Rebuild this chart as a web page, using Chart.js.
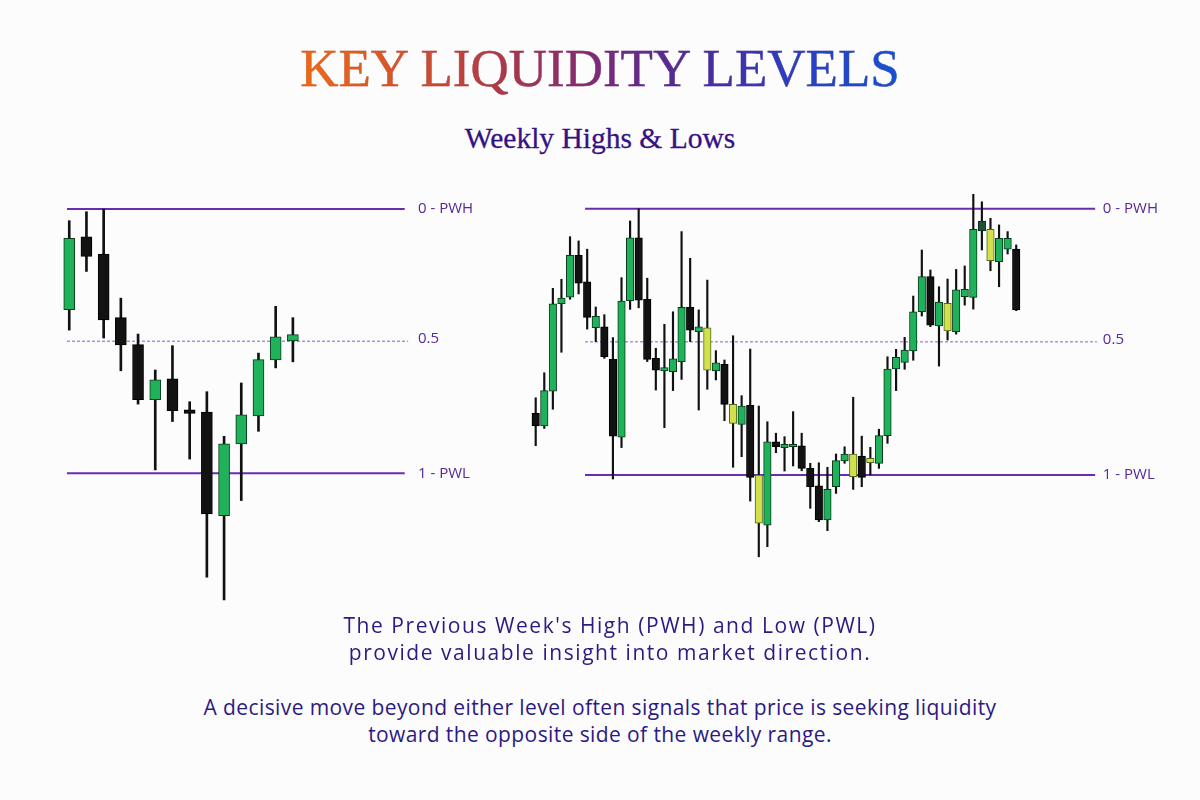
<!DOCTYPE html>
<html>
<head>
<meta charset="utf-8">
<script src="https://cdn.jsdelivr.net/npm/chart.js@4.4.1/dist/chart.umd.min.js"></script>
<style>
    body {
        margin: 0;
        width: 1200px;
        height: 800px;
        background: #fcfcfd;
        position: relative;
        overflow: hidden;
    }
    .line-text {
        position: absolute;
        left: 0;
        width: 1200px;
        text-align: center;
        white-space: nowrap;
        line-height: 1;
    }
    #title {
        top: 42px;
        font-family: "Liberation Serif", serif;
        font-size: 53px;
    }
    #title span {
        display: inline-block;
        background: linear-gradient(90deg, #ef6a12 0%, #d2522a 18%, #a8374a 35%, #7a2b78 50%, #4f2a96 64%, #2d3cbc 80%, #1552d2 100%);
        -webkit-background-clip: text;
        background-clip: text;
        color: transparent;
        -webkit-text-stroke: 0.4px rgba(120, 50, 120, 0.35);
    }
    #subtitle {
        top: 124px;
        font-family: "Liberation Serif", serif;
        font-size: 29.5px;
        color: #361283;
        -webkit-text-stroke: 0.3px #361283;
    }
    .note {
        font-family: "Open Sans", sans-serif;
        font-size: 21px;
        color: #2c1a82;
    }
    .p1 { letter-spacing: 1.55px; left: 10px; }
    .p2 { letter-spacing: 0.4px; }
    #leftBox { position: absolute; left: 40px; top: 180px; }
    #rightBox { position: absolute; left: 520px; top: 180px; }
</style>
</head>
<body>
<div id="title" class="line-text"><span>KEY LIQUIDITY LEVELS</span></div>
<div id="subtitle" class="line-text">Weekly Highs &amp; Lows</div>

<div id="leftBox"><canvas id="leftChart" width="460" height="440"></canvas></div>
<div id="rightBox"><canvas id="rightChart" width="680" height="400"></canvas></div>

<div class="line-text note p1" style="top:615px">The Previous Week's High (PWH) and Low (PWL)</div>
<div class="line-text note p1" style="top:642px">provide valuable insight into market direction.</div>
<div class="line-text note p2" style="top:697px">A decisive move beyond either level often signals that price is seeking liquidity</div>
<div class="line-text note p2" style="top:724px">toward the opposite side of the weekly range.</div>

<script>
// price is measured as % of the weekly range: 100 = PWH, 0 = PWL
const levelValues = [100, 50, 0];
const levelLabels = ['0 - PWH', '0.5', '1 - PWL'];

// left example (14 candles)
const leftOpen  = [61.9, 89.5, 83.0, 58.9, 48.7, 27.9, 35.8, 24.0, 23.2, -16.0, 11.1, 21.7, 42.9, 50.1];
const leftHigh  = [95.6, 99.0, 100, 66.3, 52.7, 39.1, 48.3, 27.1, 30.9, 14.0, 34.2, 45.5, 63.2, 58.9];
const leftLow   = [54.2, 76.4, 51.2, 38.8, 26.2, 1.3, 19.6, 5.4, -39.3, -47.9, -10.3, 15.9, 39.9, 42.2];
const leftClose = [88.9, 82.1, 58.1, 48.6, 27.9, 35.4, 23.7, 22.7, -15.4, 11.2, 22.1, 43.0, 51.7, 52.5];

// right example (57 candles)
const rightOpen = [
    23.2, 18.4, 31.5, 64.3, 66.8, 82.5, 72.5, 55.3, 55.6, 43.4,
    14.2, 65.5, 89.1, 66.0, 43.8, 39.1, 38.8, 42.6, 63.0, 53.8,
    55.3, 39.1, 41.6, 26.5, 19.0, 26.2, 0.0, -18.8, 12.5, 10.3,
    10.6, 11.0, 2.5, -4.1, -16.9, -4.4, 5.3, 7.9, 7.1, 4.6,
    4.4, 14.8, 39.8, 42.3, 46.6, 61.3, 74.5, 56.0, 64.5, 53.8,
    67.0, 66.7, 91.7, 92.3, 80.1, 84.8, 84.8
];
const rightHigh = [
    29.0, 38.4, 70.1, 73.5, 89.5, 87.9, 84.8, 63.1, 60.2, 51.6,
    74.1, 95.4, 100, 73.9, 47.6, 56.6, 61.3, 91.4, 81.4, 62.0,
    73.2, 46.7, 43.2, 52.3, 29.8, 47.3, 25.9, 20.0, 15.7, 14.4,
    23.8, 15.7, 4.4, 4.6, 2.9, 7.9, 10.6, 29.2, 14.6, 10.4,
    17.2, 44.4, 47.2, 51.7, 67.2, 84.5, 77.0, 70.7, 73.6, 77.2,
    78.5, 105.4, 102.6, 96.4, 93.9, 91.4, 86.4
];
const rightLow = [
    11.0, 17.5, 24.7, 46.1, 66.0, 68.0, 54.8, 50.1, 43.8, -1.5,
    10.3, 62.2, 62.8, 42.6, 31.9, 17.8, 31.7, 35.9, 50.1, 24.4,
    32.2, 35.7, 20.4, 2.9, 6.9, -9.8, -30.7, -26.9, 8.4, 1.5,
    3.4, 1.6, -12.5, -17.5, -20.9, -6.9, 4.4, -5.4, -4.4, 0.0,
    2.5, 11.9, 31.7, 39.7, 43.1, 59.7, 55.7, 40.9, 50.7, 52.9,
    63.8, 62.3, 84.5, 76.7, 70.7, 83.0, 61.7
];
const rightClose = [
    18.4, 31.7, 64.3, 66.4, 82.5, 72.0, 59.2, 59.6, 44.4, 14.6,
    65.3, 89.1, 65.7, 43.4, 39.4, 40.3, 43.6, 63.0, 54.4, 55.6,
    39.4, 42.1, 26.5, 19.4, 25.9, -0.9, -18.1, 12.5, 10.6, 11.5,
    11.5, 2.5, -4.4, -16.9, -5.4, 5.4, 7.9, -0.6, -0.9, 6.3,
    14.8, 39.8, 44.2, 46.9, 61.3, 74.5, 56.3, 64.9, 54.1, 69.5,
    69.7, 92.3, 95.4, 80.5, 88.9, 88.9, 62.0
];
// candles painted in the highlight colours
const rightYellow = [20, 23, 26, 37, 39, 48, 53];
const rightDark = [52];

function candleColors(open, close, yellow, dark) {
    return open.map((o, i) => {
        if (dark.includes(i)) return ['#1d5233', '#0b2a17'];
        if (yellow.includes(i)) return ['#d3e04c', '#4d6a1e'];
        return close[i] >= o ? ['#20b25a', '#0b3a1d'] : ['#121212', '#000000'];
    });
}

const levelLabelPlugin = {
    id: 'levelLabels',
    afterDatasetsDraw(chart, args, opts) {
        const {ctx, scales: {x, y}} = chart;
        ctx.save();
        ctx.font = '15px "Open Sans"';
        ctx.fillStyle = '#55289a';
        ctx.textBaseline = 'middle';
        levelValues.forEach((v, k) => {
            ctx.fillText(levelLabels[k], x.getPixelForValue(opts.labelX), y.getPixelForValue(v) - (k === 1 ? 2 : 0));
        });
        ctx.restore();
    }
};

function drawCandles(id, open, high, low, close, yellow, dark, cfg) {
    const idx = open.map((_, i) => i);
    const cols = candleColors(open, close, yellow, dark);
    const levelSets = levelValues.map((v, k) => ({
        type: 'line',
        data: [{x: cfg.lineFrom, y: v}, {x: k === 1 ? cfg.midTo : cfg.lineTo, y: v}],
        borderColor: k === 1 ? '#8a5cc4' : '#6a2db0',
        borderWidth: k === 1 ? 1 : 2,
        borderDash: k === 1 ? [3, 2] : [],
        pointRadius: 0,
    }));
    new Chart(document.getElementById(id), {
        data: {
            datasets: [
                {   // bodies
                    type: 'bar',
                    data: idx.map(i => ({x: i, y: [open[i], close[i]]})),
                    backgroundColor: cols.map(c => c[0]),
                    borderColor: cols.map(c => c[1]),
                    borderWidth: 1,
                    borderSkipped: false,
                    barThickness: cfg.body,
                    grouped: false,
                },
                {   // wicks
                    type: 'bar',
                    data: idx.map(i => ({x: i, y: [low[i], high[i]]})),
                    backgroundColor: '#111111',
                    borderWidth: 0,
                    barThickness: cfg.wick,
                    grouped: false,
                },
                ...levelSets,
            ]
        },
        options: {
            responsive: false,
            animation: false,
            layout: {padding: 0},
            plugins: {
                legend: {display: false},
                tooltip: {enabled: false},
                levelLabels: {labelX: cfg.labelX},
            },
            scales: {
                x: {type: 'linear', display: false, min: cfg.xMin, max: cfg.xMax, offset: false},
                y: {display: false, min: cfg.yMin, max: cfg.yMax},
            }
        },
        plugins: [levelLabelPlugin]
    });
}

drawCandles('leftChart', leftOpen, leftHigh, leftLow, leftClose, [], [], {
    xMin: -1.70, xMax: 25.04, yMin: -55.5, yMax: 111,
    lineFrom: -0.13, lineTo: 19.5, midTo: 19.7, labelX: 20.27,
    body: 11, wick: 2,
});
drawCandles('rightChart', rightOpen, rightHigh, rightLow, rightClose, rightYellow, rightDark, {
    xMin: -1.83, xMax: 77.42, yMin: -39.42, yMax: 110.78,
    lineFrom: 5.75, lineTo: 65.2, midTo: 65.4, labelX: 66.1,
    body: 7.5, wick: 1.5,
});
</script>
</body>
</html>
